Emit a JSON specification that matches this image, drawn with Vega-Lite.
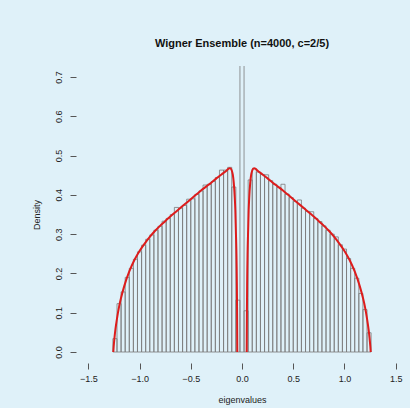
{
  "$schema": "https://vega.github.io/schema/vega-lite/v6.json",
  "autosize": {"type": "none"},
  "padding": {"left": 76, "top": 66, "right": 2, "bottom": 45},
  "width": 332,
  "height": 297,
  "background": "#dff1f9",
  "config": {"view": {"stroke": null}, "font": "Liberation Sans"},
  "title": {"text": "Wigner Ensemble (n=4000, c=2/5)", "fontSize": 11, "fontWeight": "bold", "color": "#111", "anchor": "middle", "offset": 17, "font": "Liberation Sans"},
  "datasets": {
    "bins": [
      {"lo": -1.26, "hi": -1.22, "density": 0.034},
      {"lo": -1.22, "hi": -1.18, "density": 0.123},
      {"lo": -1.18, "hi": -1.14, "density": 0.153},
      {"lo": -1.14, "hi": -1.10, "density": 0.190},
      {"lo": -1.10, "hi": -1.06, "density": 0.213},
      {"lo": -1.06, "hi": -1.02, "density": 0.236},
      {"lo": -1.02, "hi": -0.98, "density": 0.255},
      {"lo": -0.98, "hi": -0.94, "density": 0.272},
      {"lo": -0.94, "hi": -0.90, "density": 0.287},
      {"lo": -0.90, "hi": -0.86, "density": 0.298},
      {"lo": -0.86, "hi": -0.82, "density": 0.310},
      {"lo": -0.82, "hi": -0.78, "density": 0.320},
      {"lo": -0.78, "hi": -0.74, "density": 0.333},
      {"lo": -0.74, "hi": -0.70, "density": 0.340},
      {"lo": -0.70, "hi": -0.66, "density": 0.350},
      {"lo": -0.66, "hi": -0.62, "density": 0.368},
      {"lo": -0.62, "hi": -0.58, "density": 0.366},
      {"lo": -0.58, "hi": -0.54, "density": 0.373},
      {"lo": -0.54, "hi": -0.50, "density": 0.389},
      {"lo": -0.50, "hi": -0.46, "density": 0.390},
      {"lo": -0.46, "hi": -0.42, "density": 0.401},
      {"lo": -0.42, "hi": -0.38, "density": 0.410},
      {"lo": -0.38, "hi": -0.34, "density": 0.425},
      {"lo": -0.34, "hi": -0.30, "density": 0.427},
      {"lo": -0.30, "hi": -0.26, "density": 0.434},
      {"lo": -0.26, "hi": -0.22, "density": 0.444},
      {"lo": -0.22, "hi": -0.18, "density": 0.463},
      {"lo": -0.18, "hi": -0.14, "density": 0.463},
      {"lo": -0.14, "hi": -0.10, "density": 0.470},
      {"lo": -0.10, "hi": -0.06, "density": 0.420},
      {"lo": -0.06, "hi": -0.02, "density": 0.132},
      {"lo": -0.02, "hi": 0.02, "density": 2.2},
      {"lo": 0.02, "hi": 0.06, "density": 0.105},
      {"lo": 0.06, "hi": 0.10, "density": 0.438},
      {"lo": 0.10, "hi": 0.14, "density": 0.466},
      {"lo": 0.14, "hi": 0.18, "density": 0.458},
      {"lo": 0.18, "hi": 0.22, "density": 0.452},
      {"lo": 0.22, "hi": 0.26, "density": 0.451},
      {"lo": 0.26, "hi": 0.30, "density": 0.436},
      {"lo": 0.30, "hi": 0.34, "density": 0.427},
      {"lo": 0.34, "hi": 0.38, "density": 0.419},
      {"lo": 0.38, "hi": 0.42, "density": 0.427},
      {"lo": 0.42, "hi": 0.46, "density": 0.402},
      {"lo": 0.46, "hi": 0.50, "density": 0.393},
      {"lo": 0.50, "hi": 0.54, "density": 0.383},
      {"lo": 0.54, "hi": 0.58, "density": 0.387},
      {"lo": 0.58, "hi": 0.62, "density": 0.366},
      {"lo": 0.62, "hi": 0.66, "density": 0.358},
      {"lo": 0.66, "hi": 0.70, "density": 0.357},
      {"lo": 0.70, "hi": 0.74, "density": 0.340},
      {"lo": 0.74, "hi": 0.78, "density": 0.332},
      {"lo": 0.78, "hi": 0.82, "density": 0.321},
      {"lo": 0.82, "hi": 0.86, "density": 0.310},
      {"lo": 0.86, "hi": 0.90, "density": 0.300},
      {"lo": 0.90, "hi": 0.94, "density": 0.293},
      {"lo": 0.94, "hi": 0.98, "density": 0.273},
      {"lo": 0.98, "hi": 1.02, "density": 0.262},
      {"lo": 1.02, "hi": 1.06, "density": 0.238},
      {"lo": 1.06, "hi": 1.10, "density": 0.213},
      {"lo": 1.10, "hi": 1.14, "density": 0.188},
      {"lo": 1.14, "hi": 1.18, "density": 0.149},
      {"lo": 1.18, "hi": 1.22, "density": 0.108},
      {"lo": 1.22, "hi": 1.26, "density": 0.049}
    ],
    "curve": [
      {"part": "left", "x": -1.256, "y": 0},
      {"part": "left", "x": -1.252, "y": 0.015},
      {"part": "left", "x": -1.245, "y": 0.035},
      {"part": "left", "x": -1.235, "y": 0.058},
      {"part": "left", "x": -1.22, "y": 0.085},
      {"part": "left", "x": -1.2, "y": 0.115},
      {"part": "left", "x": -1.18, "y": 0.138},
      {"part": "left", "x": -1.15, "y": 0.167},
      {"part": "left", "x": -1.1, "y": 0.205},
      {"part": "left", "x": -1.05, "y": 0.234},
      {"part": "left", "x": -1.0, "y": 0.257},
      {"part": "left", "x": -0.95, "y": 0.276},
      {"part": "left", "x": -0.9, "y": 0.293},
      {"part": "left", "x": -0.85, "y": 0.308},
      {"part": "left", "x": -0.8, "y": 0.321},
      {"part": "left", "x": -0.75, "y": 0.333},
      {"part": "left", "x": -0.7, "y": 0.345},
      {"part": "left", "x": -0.65, "y": 0.356},
      {"part": "left", "x": -0.6, "y": 0.367},
      {"part": "left", "x": -0.55, "y": 0.378},
      {"part": "left", "x": -0.5, "y": 0.389},
      {"part": "left", "x": -0.45, "y": 0.4},
      {"part": "left", "x": -0.4, "y": 0.411},
      {"part": "left", "x": -0.35, "y": 0.421},
      {"part": "left", "x": -0.3, "y": 0.431},
      {"part": "left", "x": -0.25, "y": 0.442},
      {"part": "left", "x": -0.2, "y": 0.452},
      {"part": "left", "x": -0.15, "y": 0.462},
      {"part": "left", "x": -0.13, "y": 0.467},
      {"part": "left", "x": -0.12, "y": 0.468},
      {"part": "left", "x": -0.11, "y": 0.467},
      {"part": "left", "x": -0.1, "y": 0.462},
      {"part": "left", "x": -0.09, "y": 0.452},
      {"part": "left", "x": -0.08, "y": 0.43},
      {"part": "left", "x": -0.07, "y": 0.39},
      {"part": "left", "x": -0.065, "y": 0.36},
      {"part": "left", "x": -0.06, "y": 0.31},
      {"part": "left", "x": -0.055, "y": 0.26},
      {"part": "left", "x": -0.05, "y": 0.17},
      {"part": "left", "x": -0.048, "y": 0.1},
      {"part": "left", "x": -0.046, "y": 0},
      {"part": "right", "x": 0.046, "y": 0},
      {"part": "right", "x": 0.048, "y": 0.1},
      {"part": "right", "x": 0.05, "y": 0.17},
      {"part": "right", "x": 0.055, "y": 0.26},
      {"part": "right", "x": 0.06, "y": 0.31},
      {"part": "right", "x": 0.065, "y": 0.36},
      {"part": "right", "x": 0.07, "y": 0.39},
      {"part": "right", "x": 0.08, "y": 0.43},
      {"part": "right", "x": 0.09, "y": 0.452},
      {"part": "right", "x": 0.1, "y": 0.462},
      {"part": "right", "x": 0.11, "y": 0.467},
      {"part": "right", "x": 0.12, "y": 0.468},
      {"part": "right", "x": 0.13, "y": 0.467},
      {"part": "right", "x": 0.15, "y": 0.462},
      {"part": "right", "x": 0.2, "y": 0.452},
      {"part": "right", "x": 0.25, "y": 0.442},
      {"part": "right", "x": 0.3, "y": 0.431},
      {"part": "right", "x": 0.35, "y": 0.421},
      {"part": "right", "x": 0.4, "y": 0.411},
      {"part": "right", "x": 0.45, "y": 0.4},
      {"part": "right", "x": 0.5, "y": 0.389},
      {"part": "right", "x": 0.55, "y": 0.378},
      {"part": "right", "x": 0.6, "y": 0.367},
      {"part": "right", "x": 0.65, "y": 0.356},
      {"part": "right", "x": 0.7, "y": 0.345},
      {"part": "right", "x": 0.75, "y": 0.333},
      {"part": "right", "x": 0.8, "y": 0.321},
      {"part": "right", "x": 0.85, "y": 0.308},
      {"part": "right", "x": 0.9, "y": 0.293},
      {"part": "right", "x": 0.95, "y": 0.276},
      {"part": "right", "x": 1.0, "y": 0.257},
      {"part": "right", "x": 1.05, "y": 0.234},
      {"part": "right", "x": 1.1, "y": 0.205},
      {"part": "right", "x": 1.15, "y": 0.167},
      {"part": "right", "x": 1.18, "y": 0.138},
      {"part": "right", "x": 1.2, "y": 0.115},
      {"part": "right", "x": 1.22, "y": 0.085},
      {"part": "right", "x": 1.235, "y": 0.058},
      {"part": "right", "x": 1.245, "y": 0.035},
      {"part": "right", "x": 1.252, "y": 0.015},
      {"part": "right", "x": 1.256, "y": 0}
    ]
  },
  "layer": [
    {
      "mark": {"type": "rect", "fill": "white", "clip": false},
      "encoding": {
        "x": {"datum": -2.076, "type": "quantitative", "scale": {"domain": [-1.62, 1.62], "nice": false, "zero": false},
          "axis": {"values": [-1.5, -1.0, -0.5, 0, 0.5, 1.0, 1.5], "format": ".1f", "domain": false, "grid": false, "tickSize": 6, "tickColor": "#555", "labelFontSize": 9, "labelColor": "#222", "labelPadding": 5, "labelFont": "Liberation Sans", "title": "eigenvalues", "titleFontSize": 9, "titleFontWeight": "normal", "titleColor": "#222", "titlePadding": 12, "titleFont": "Liberation Sans"}},
        "x2": {"datum": 1.7},
        "y": {"datum": 0.849, "type": "quantitative", "scale": {"domain": [-0.028, 0.728], "nice": false, "zero": false},
          "axis": {"values": [0, 0.1, 0.2, 0.3, 0.4, 0.5, 0.6, 0.7], "format": ".1f", "domain": false, "grid": false, "tickSize": 6, "tickColor": "#555", "labelFontSize": 9, "labelColor": "#222", "labelAngle": -90, "labelAlign": "center", "labelBaseline": "bottom", "labelPadding": 7, "labelFont": "Liberation Sans", "title": "Density", "titleFontSize": 9, "titleFontWeight": "normal", "titleColor": "#222", "titlePadding": 13, "titleFont": "Liberation Sans"}},
        "y2": {"datum": -0.2}
      }
    },
    {
      "mark": {"type": "rule", "color": "#999", "strokeWidth": 1},
      "encoding": {
        "x": {"datum": -1.5, "type": "quantitative"},
        "x2": {"datum": 1.5},
        "y": {"datum": 0, "type": "quantitative"}
      }
    },
    {
      "data": {"name": "bins"},
      "mark": {"type": "rect", "fill": "white", "fillOpacity": 0, "stroke": "#7a7a7a", "strokeWidth": 0.8, "clip": true},
      "encoding": {
        "x": {"field": "lo", "type": "quantitative"},
        "x2": {"field": "hi"},
        "y": {"field": "density", "type": "quantitative"},
        "y2": {"datum": 0}
      }
    },
    {
      "data": {"name": "curve"},
      "mark": {"type": "line", "color": "#dd1c1c", "strokeWidth": 2, "interpolate": "monotone"},
      "encoding": {
        "x": {"field": "x", "type": "quantitative"},
        "y": {"field": "y", "type": "quantitative"},
        "detail": {"field": "part"}
      }
    },
    {
      "mark": {"type": "rule", "color": "#555", "strokeWidth": 1, "clip": false},
      "encoding": {
        "x": {"datum": -1.5, "type": "quantitative"},
        "x2": {"datum": 1.5},
        "y": {"datum": -0.028, "type": "quantitative"}
      }
    },
    {
      "mark": {"type": "rule", "color": "#555", "strokeWidth": 1, "clip": false},
      "encoding": {
        "x": {"datum": -1.62, "type": "quantitative"},
        "y": {"datum": 0, "type": "quantitative"},
        "y2": {"datum": 0.7}
      }
    }
  ]
}
